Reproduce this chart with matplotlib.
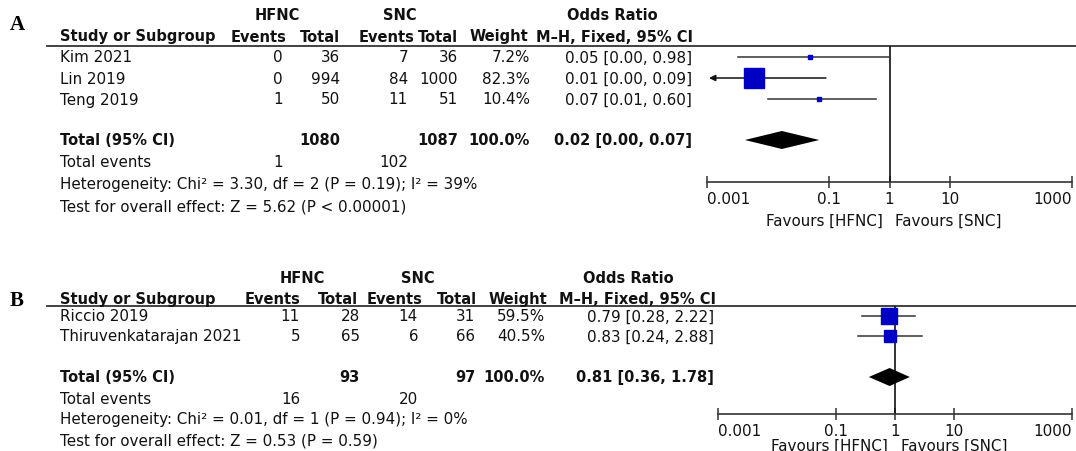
import matplotlib
matplotlib.use("Agg")
import matplotlib.pyplot as plt
from matplotlib.ticker import FixedLocator, FixedFormatter, NullLocator

W, H = 1076, 452
DPI = 100
FS = 10.9      # regular text
FSB = 10.5     # bold headers
BLUE = "#0000c4"
INK = "#111111"
LINE = "#333333"

plt.rcParams["font.family"] = ["DejaVu Sans"]

# ---- panel A: HFNC vs SNC ----
A_STUDIES = ["Kim 2021", "Lin 2019", "Teng 2019"]
A_HFNC_EVENTS = [0, 0, 1]
A_HFNC_TOTAL = [36, 994, 50]
A_SNC_EVENTS = [7, 84, 11]
A_SNC_TOTAL = [36, 1000, 51]
A_WEIGHT = [7.2, 82.3, 10.4]
A_OR = [0.05, 0.006, 0.07]
A_LO = [0.0032, 0.0003, 0.01]
A_HI = [0.98, 0.09, 0.60]
A_POOLED = (0.017, 0.0042, 0.07)
A_HET = "Heterogeneity: Chi² = 3.30, df = 2 (P = 0.19); I² = 39%"
A_TEST = "Test for overall effect: Z = 5.62 (P < 0.00001)"

# ---- panel B ----
B_STUDIES = ["Riccio 2019", "Thiruvenkatarajan 2021"]
B_HFNC_EVENTS = [11, 5]
B_HFNC_TOTAL = [28, 65]
B_SNC_EVENTS = [14, 6]
B_SNC_TOTAL = [31, 66]
B_WEIGHT = [59.5, 40.5]
B_OR = [0.79, 0.83]
B_LO = [0.28, 0.24]
B_HI = [2.22, 2.88]
B_POOLED = (0.81, 0.36, 1.78)
B_HET = "Heterogeneity: Chi² = 0.01, df = 1 (P = 0.94); I² = 0%"
B_TEST = "Test for overall effect: Z = 0.53 (P = 0.59)"

TICKS = [0.001, 0.1, 1, 10, 1000]
TICK_LABELS = ["0.001", "0.1", "1", "10", "1000"]

# pixel layout of each panel (x = right edges of columns, y = row centres)
LAYOUT_A = dict(
    letter=(10, 25), grp_y=16, head_y=37, rule_y=47, rows=[58, 79, 100],
    total_y=141, events_y=163, het_y=185, test_y=207,
    hfnc_c=277, snc_c=400, or_c=612,
    head_x=[287, 340, 415, 458, 528, 693],
    num_x=[283, 340, 408, 458, 530, 692],
    ax_x=(707, 1072), ax_y=183, fav_y=221,
)
LAYOUT_B = dict(
    letter=(10, 301), grp_y=279, head_y=300, rule_y=307, rows=[317, 337],
    total_y=378, events_y=400, het_y=420, test_y=441,
    hfnc_c=302, snc_c=418, or_c=628,
    head_x=[300, 358, 422, 477, 547, 716],
    num_x=[300, 360, 418, 475, 545, 714],
    ax_x=(718, 1072), ax_y=415, fav_y=446,
)


def ci_label(orv, lo, hi):
    return f"{orv:.2f} [{lo:.2f}, {hi:.2f}]"


def draw_panel(fig, bg, letter, L, studies, ev1, tot1, ev2, tot2, weight,
               ors, los, his, pooled, het, test):
    def txt(x, y, s, ha="left", bold=False):
        bg.text(x, y, s, ha=ha, va="center", color=INK,
                fontsize=FSB if bold else FS,
                fontweight="bold" if bold else "normal")

    bg.text(L["letter"][0], L["letter"][1], letter, fontsize=15,
            fontweight="bold", family="Liberation Serif", va="center")

    # header
    txt(L["hfnc_c"], L["grp_y"], "HFNC", ha="center", bold=True)
    txt(L["snc_c"], L["grp_y"], "SNC", ha="center", bold=True)
    txt(L["or_c"], L["grp_y"], "Odds Ratio", ha="center", bold=True)
    txt(60, L["head_y"], "Study or Subgroup", bold=True)
    for x, s in zip(L["head_x"], ["Events", "Total", "Events", "Total",
                                   "Weight", "M\u2013H, Fixed, 95% CI"]):
        txt(x, L["head_y"], s, ha="right", bold=True)
    bg.plot([47, W], [L["rule_y"], L["rule_y"]], color=LINE, lw=1.3)

    nx = L["num_x"]
    for i, name in enumerate(studies):
        y = L["rows"][i]
        txt(60, y, name)
        vals = [ev1[i], tot1[i], ev2[i], tot2[i], f"{weight[i]:.1f}%",
                ci_label(ors[i], los[i], his[i])]
        for x, v in zip(nx, vals):
            txt(x, y, str(v), ha="right")

    ty = L["total_y"]
    txt(60, ty, "Total (95% CI)", bold=True)
    txt(nx[1], ty, str(sum(tot1)), ha="right", bold=True)
    txt(nx[3], ty, str(sum(tot2)), ha="right", bold=True)
    txt(nx[4], ty, "100.0%", ha="right", bold=True)
    txt(nx[5], ty, ci_label(*pooled), ha="right", bold=True)
    txt(60, L["events_y"], "Total events")
    txt(nx[0], L["events_y"], str(sum(ev1)), ha="right")
    txt(nx[2], L["events_y"], str(sum(ev2)), ha="right")
    txt(60, L["het_y"], het)
    txt(60, L["test_y"], test)

    # forest plot
    x0, x1 = L["ax_x"]
    top, bot = L["rule_y"], L["ax_y"]
    ax = fig.add_axes([x0 / W, 1 - bot / H, (x1 - x0) / W, (bot - top) / H])
    ax.set_xscale("log")
    ax.set_xlim(1e-3, 1e3)
    ax.set_ylim(bot, top)
    ax.patch.set_alpha(0)
    for side in ["top", "left", "right"]:
        ax.spines[side].set_visible(False)
    ax.spines["bottom"].set_color(LINE)
    ax.spines["bottom"].set_linewidth(1.2)
    ax.xaxis.set_major_locator(FixedLocator(TICKS))
    ax.xaxis.set_major_formatter(FixedFormatter(TICK_LABELS))
    ax.xaxis.set_minor_locator(NullLocator())
    ax.set_yticks([])
    ax.tick_params(axis="x", direction="inout", length=9, width=1.1,
                   color=LINE, pad=2, labelsize=FS, labelcolor=INK)
    ticks = ax.xaxis.get_major_ticks()
    ticks[0].label1.set_horizontalalignment("left")
    ticks[-1].label1.set_horizontalalignment("right")
    ax.axvline(1, color=INK, lw=1.2)

    for i in range(len(studies)):
        y = L["rows"][i]
        if los[i] < 1e-3:
            ax.annotate("", xy=(1.08e-3, y), xytext=(his[i], y),
                        arrowprops=dict(arrowstyle="-|>", color=INK, lw=1.1,
                                        mutation_scale=9, shrinkA=0,
                                        shrinkB=0))
        else:
            ax.plot([los[i], his[i]], [y, y], color=LINE, lw=1.1)
        side_px = 0.9 * weight[i] ** 0.7
        ax.plot(ors[i], y, marker="s", ms=side_px * 72 / DPI, color=BLUE,
                mec=BLUE, zorder=3)

    orp, lop, hip = pooled
    ax.fill([lop, orp, hip, orp], [ty, ty - 9, ty, ty + 9], color="black",
            lw=0, zorder=3)

    ax.annotate("Favours [HFNC]", xy=(1, L["fav_y"]), xytext=(-5, 0),
                textcoords="offset points", ha="right", va="center",
                fontsize=FS, color=INK, annotation_clip=False)
    ax.annotate("Favours [SNC]", xy=(1, L["fav_y"]), xytext=(4, 0),
                textcoords="offset points", ha="left", va="center",
                fontsize=FS, color=INK, annotation_clip=False)


fig = plt.figure(figsize=(W / DPI, H / DPI), dpi=DPI)
bg = fig.add_axes([0, 0, 1, 1])
bg.set_xlim(0, W)
bg.set_ylim(H, 0)
bg.axis("off")

draw_panel(fig, bg, "A", LAYOUT_A, A_STUDIES, A_HFNC_EVENTS, A_HFNC_TOTAL,
           A_SNC_EVENTS, A_SNC_TOTAL, A_WEIGHT, A_OR, A_LO, A_HI, A_POOLED,
           A_HET, A_TEST)
draw_panel(fig, bg, "B", LAYOUT_B, B_STUDIES, B_HFNC_EVENTS, B_HFNC_TOTAL,
           B_SNC_EVENTS, B_SNC_TOTAL, B_WEIGHT, B_OR, B_LO, B_HI, B_POOLED,
           B_HET, B_TEST)

fig.savefig("out.png", dpi=DPI)
